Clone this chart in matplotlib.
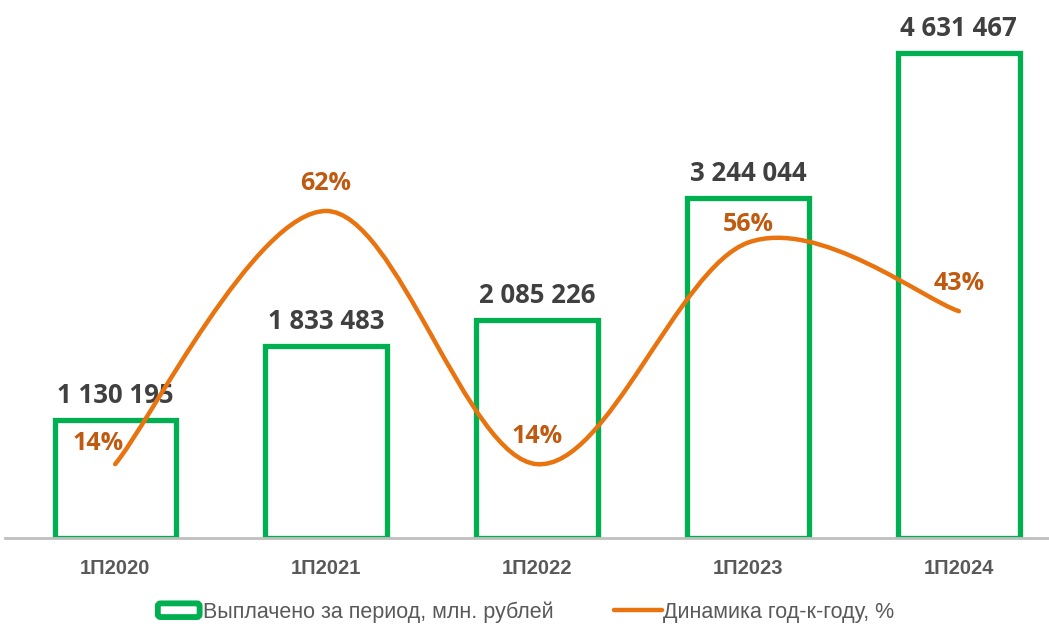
import numpy as np
import matplotlib
matplotlib.use("Agg")
import matplotlib.pyplot as plt
from matplotlib.path import Path
from matplotlib.patches import PathPatch, FancyBboxPatch
from matplotlib.lines import Line2D
from matplotlib.legend_handler import HandlerPatch

# Данные
periods = ["1П2020", "1П2021", "1П2022", "1П2023", "1П2024"]
paid = [1130195, 1833483, 2085226, 3244044, 4631467]
growth = [14, 62, 14, 56, 43]

green = "#00B050"
orange = "#E8730F"
label_orange = "#C05A10"
grey_txt = "#404040"
narrow = ["Liberation Sans Narrow", "Liberation Sans", "DejaVu Sans"]


# Сглаженная линия как в Excel (кривые Безье)
def smooth_path(xs, ys):
    pts = np.column_stack([xs, ys]).astype(float)
    n = len(pts)
    verts = [pts[0]]
    codes = [Path.MOVETO]
    for i in range(n - 1):
        p0 = pts[max(i - 1, 0)]
        p1 = pts[i]
        p2 = pts[i + 1]
        p3 = pts[min(i + 2, n - 1)]
        c1 = p1 + (p2 - p0) / 6
        c2 = p2 - (p3 - p1) / 6
        verts += [c1, c2, p2]
        codes += [Path.CURVE4] * 3
    return Path(verts, codes)


fig = plt.figure(figsize=(10.49, 6.24), dpi=100)
ax = fig.add_axes([0.005, 1 - 538 / 624, 0.995, 538 / 624])
x = np.arange(len(periods))

bars = ax.bar(x, paid, width=0.575, color="white", edgecolor=green,
              linewidth=3.8, zorder=2, label="Выплачено за период, млн. рублей")
ax.set_xlim(-0.521, 4.427)
ax.set_ylim(0, 5.137e6)

for xi, v in zip(x, paid):
    ax.annotate(f"{v:,}".replace(",", " "), (xi, v), xytext=(0, 8),
                textcoords="offset points", ha="center", va="bottom",
                fontsize=18.5, fontweight="bold", color=grey_txt,
                family="Open Sans", zorder=3)

for s in ["top", "right", "left"]:
    ax.spines[s].set_visible(False)
ax.spines["bottom"].set_color("#BFBFBF")
ax.spines["bottom"].set_linewidth(2)
ax.set_yticks([])
ax.set_xticks(x)
ax.set_xticklabels(periods, fontsize=14.5, fontweight="bold", color="#595959",
                   family=narrow)
ax.tick_params(axis="x", length=0, pad=15)

ax2 = ax.twinx()
ax2.set_ylim(0, 102)
ax2.set_yticks([])
for s in ax2.spines.values():
    s.set_visible(False)
path = smooth_path(x, growth)
ax2.add_patch(PathPatch(path, facecolor="none", edgecolor=orange,
                        linewidth=3.2, capstyle="round", zorder=4))

offsets = [(-12, 6), (0, 11), (0, 11), (0, 4), (0, 11)]
for xi, g, off in zip(x, growth, offsets):
    ax2.annotate(f"{g}%", (xi, g), xytext=off, textcoords="offset points",
                 ha="center", va="bottom", fontsize=18, fontweight="bold",
                 color=label_orange, family="Open Sans", zorder=5)


class RoundBoxHandler(HandlerPatch):
    def create_artists(self, legend, orig_handle, xdescent, ydescent,
                       width, height, fontsize, trans):
        p = FancyBboxPatch((-xdescent + 2, -ydescent + 0.5), width - 4, height - 1,
                           boxstyle="round,pad=0,rounding_size=2",
                           facecolor="white", edgecolor=green, linewidth=4.2,
                           transform=trans)
        return [p]


line_handle = Line2D([], [], color=orange, linewidth=3.2,
                     solid_capstyle="round")
leg = fig.legend([bars.patches[0], line_handle],
                 ["Выплачено за период, млн. рублей", "Динамика год-к-году, %"],
                 handler_map={bars.patches[0]: RoundBoxHandler()},
                 loc="center", bbox_to_anchor=(0.5, 12 / 624), ncol=2,
                 frameon=False, handlelength=2.2, handletextpad=0.05,
                 columnspacing=2.8,
                 prop={"family": narrow, "size": 15.5})
for t in leg.get_texts():
    t.set_color("#595959")

fig.savefig("out.png", dpi=100)
